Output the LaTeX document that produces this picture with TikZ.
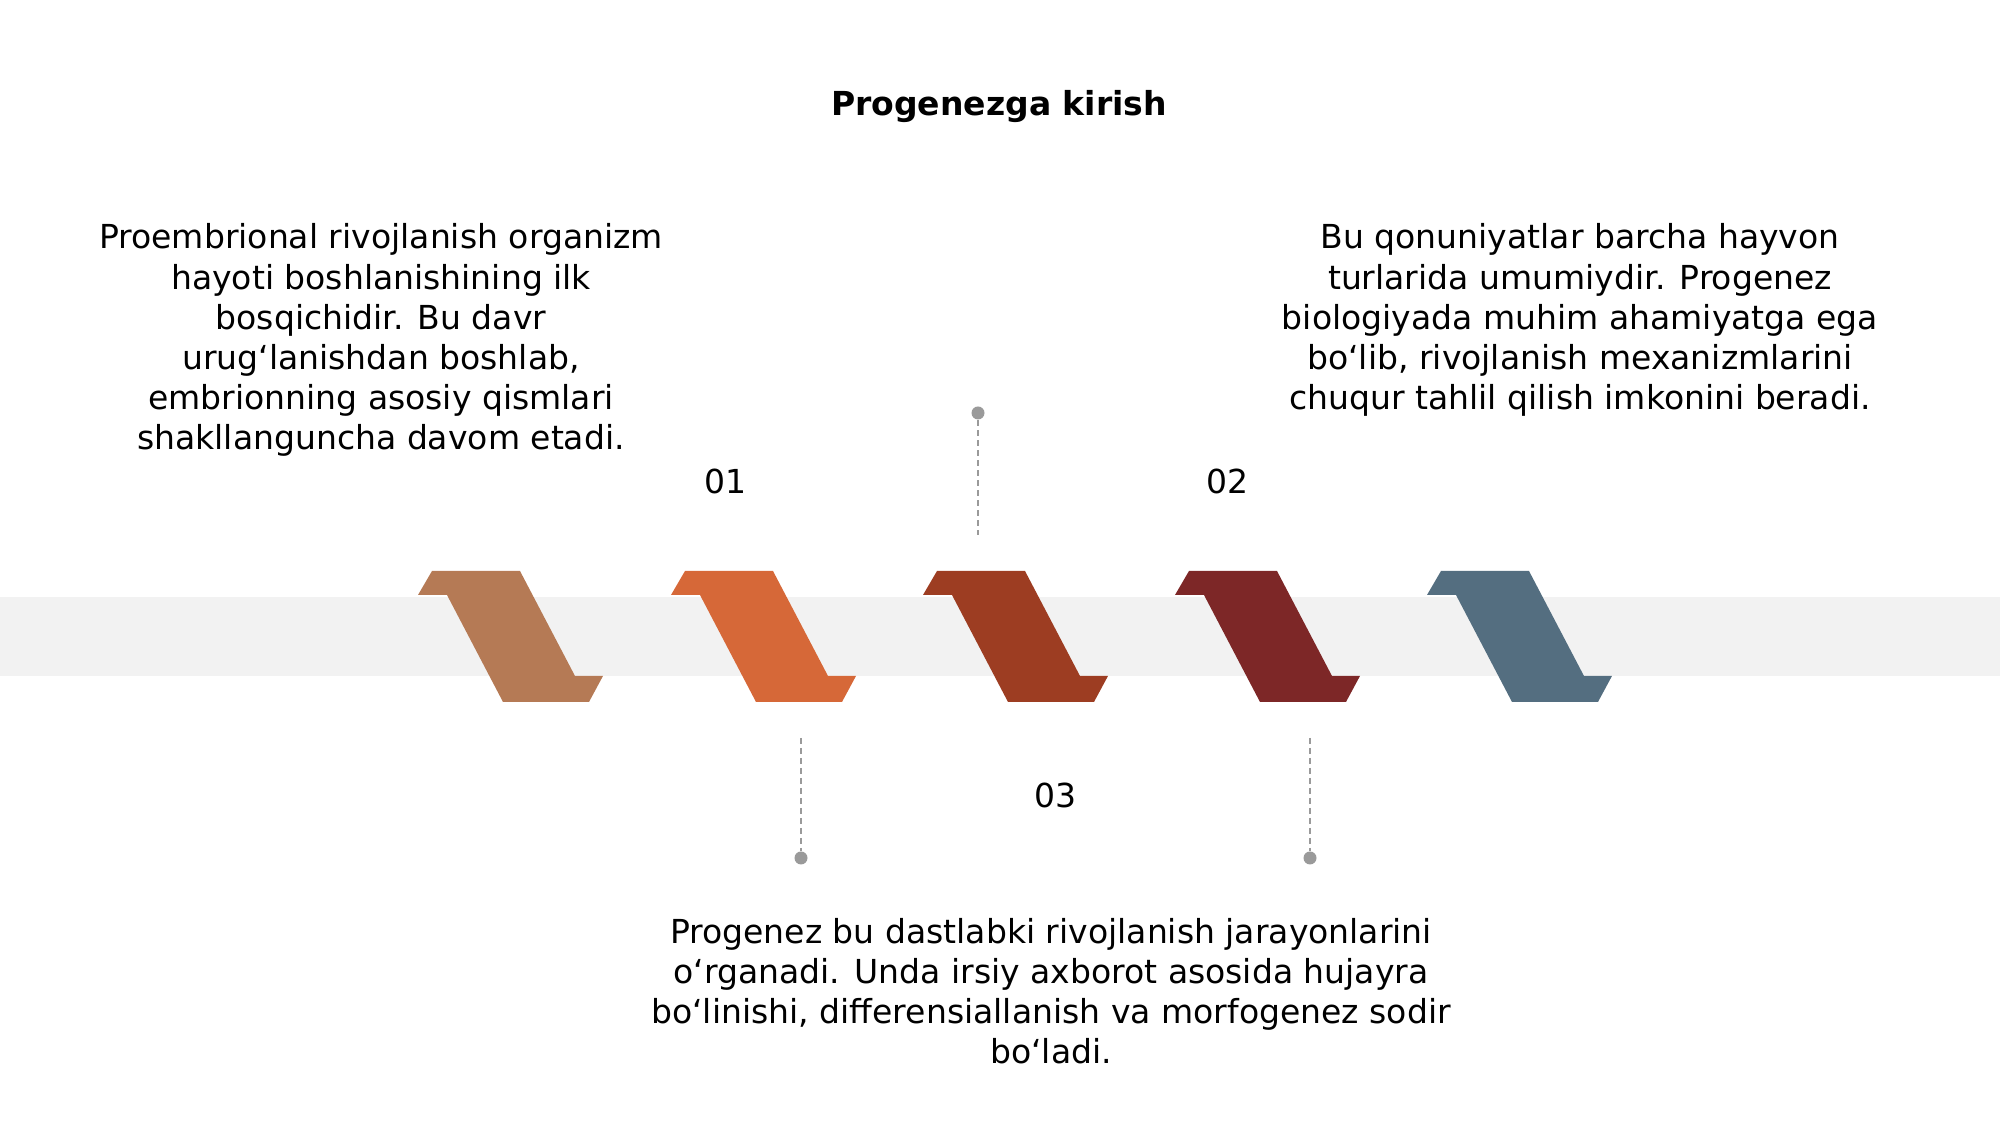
\documentclass[tikz,border=0pt]{standalone}
\usepackage{xcolor}
\usepackage{fontspec}
\setmainfont{DejaVu Sans}
\usepackage{tikz}
\usetikzlibrary{positioning}

\definecolor{bandgray}{HTML}{F2F2F2}
\definecolor{leadgray}{HTML}{9A9A9A}
\definecolor{chevA}{HTML}{B57A55}
\definecolor{chevB}{HTML}{D66838}
\definecolor{chevC}{HTML}{9D3D22}
\definecolor{chevD}{HTML}{7D2727}
\definecolor{chevE}{HTML}{546E80}

\begin{document}
\begin{tikzpicture}[
    x=0.1mm, y=-0.1mm,
    txt/.style={align=center, inner sep=0pt, font=\fontsize{9.4pt}{11.4pt}\selectfont},
    head/.style={inner sep=0pt, font=\fontsize{9.4pt}{11.4pt}\selectfont\bfseries},
    num/.style={inner sep=0pt, font=\fontsize{9.4pt}{11.4pt}\selectfont},
    dot/.style={circle, fill=leadgray, inner sep=0pt, minimum size=1.3mm},
    leader/.style={draw=leadgray, line width=0.22mm, dash pattern=on 0.6mm off 0.4mm}
]
    \useasboundingbox (0,0) rectangle (2000,1126);

    % band and chevrons
    \fill[bandgray] (0,597) rectangle (2000,676);
    \foreach \x/\c in {418/chevA, 671/chevB, 923/chevC, 1175/chevD, 1427/chevE} {
        \begin{scope}[shift={(\x,0)}]
            \fill[\c] (14,571) -- (102,571) -- (157,676) -- (185,676) -- (171,702)
                -- (85,702) -- (29,595) -- (0,595) -- cycle;
        \end{scope}
    }

    \node[head] (title) at (999,107) {Progenezga kirish};

    \node[txt] (left) at (381,340) {Proembrional rivojlanish organizm\\hayoti boshlanishining ilk\\bosqichidir. Bu davr\\urugʻlanishdan boshlab,\\embrionning asosiy qismlari\\shakllanguncha davom etadi.};
    \node[txt] (right) at (1580,320) {Bu qonuniyatlar barcha hayvon\\turlarida umumiydir. Progenez\\biologiyada muhim ahamiyatga ega\\boʻlib, rivojlanish mexanizmlarini\\chuqur tahlil qilish imkonini beradi.};
    \node[txt] (bottom) at (1051,991) {Progenez bu dastlabki rivojlanish jarayonlarini\\oʻrganadi. Unda irsiy axborot asosida hujayra\\boʻlinishi, differensiallanish va morfogenez sodir\\boʻladi.};

    \node[num] (n1) at (726,481) {01};
    \node[num] (n2) at (1228,481) {02};
    \node[num] (n3) at (1056,795) {03};

    % leaders
    \node[dot] (d1) at (978,413) {};
    \coordinate (e1) at (978,535);
    \node[dot] (d2) at (801,858) {};
    \coordinate (e2) at (801,738);
    \node[dot] (d3) at (1310,858) {};
    \coordinate (e3) at (1310,738);
    \draw[leader] (d1) -- (e1);
    \draw[leader] (e2) -- (d2);
    \draw[leader] (e3) -- (d3);
\end{tikzpicture}
\end{document}
